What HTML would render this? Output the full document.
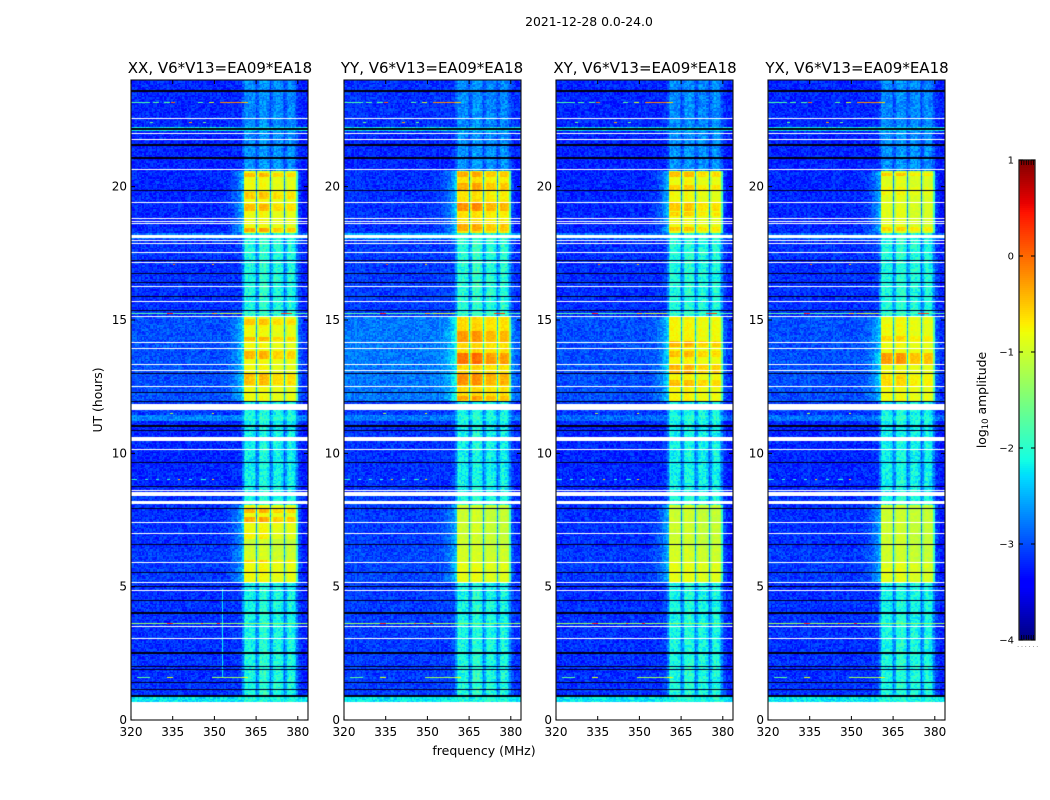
<!DOCTYPE html>
<html lang="en">
<head>
<meta charset="utf-8">
<title>2021-12-28 0.0-24.0</title>
<style>
html,body{margin:0;padding:0;background:#fff;}
#figure{position:relative;width:1050px;height:800px;overflow:hidden;background:#fff;font-family:"DejaVu Sans","Liberation Sans",sans-serif;}
canvas{position:absolute;top:80px;}
svg{position:absolute;left:0;top:0;}
text{font-family:"DejaVu Sans","Liberation Sans",sans-serif;fill:#000;}
</style>
</head>
<body>
<div id="figure">
<canvas id="heat0" width="177" height="640" style="left:131px"></canvas>
<canvas id="heat1" width="177" height="640" style="left:344px"></canvas>
<canvas id="heat2" width="177" height="640" style="left:556px"></canvas>
<canvas id="heat3" width="177" height="640" style="left:768px"></canvas>
<svg id="overlay" width="1050" height="800" viewBox="0 0 1050 800">
<text x="589" y="26" text-anchor="middle" font-size="12.4">2021-12-28 0.0-24.0</text>
<text x="220" y="73" text-anchor="middle" font-size="15">XX, V6*V13=EA09*EA18</text>
<text x="432" y="73" text-anchor="middle" font-size="15">YY, V6*V13=EA09*EA18</text>
<text x="645" y="73" text-anchor="middle" font-size="15">XY, V6*V13=EA09*EA18</text>
<text x="857" y="73" text-anchor="middle" font-size="15">YX, V6*V13=EA09*EA18</text>
<text x="484" y="755" text-anchor="middle" font-size="12.5">frequency (MHz)</text>
<text transform="translate(102,400) rotate(-90)" text-anchor="middle" font-size="12.4">UT (hours)</text>
<text transform="translate(986,400) rotate(-90)" text-anchor="middle" font-size="12.4">log<tspan font-size="8.5" dy="2">10</tspan><tspan dy="-2"> amplitude</tspan></text>
<text x="1017" y="647" font-size="7" letter-spacing="1.6" fill="#777" style="fill:#777">......</text>
</svg>
</div>
<script>
// ---------- axis tick labels ----------
const freqTicks = [320, 335, 350, 365, 380];
const hourTicks = [0, 5, 10, 15, 20];
const colorTicks = [1, 0, -1, -2, -3, -4];
const colorMinorTicks = [-3.98, -3.95, -3.92, -3.89, -3.86, -3.83, 0.83, 0.86, 0.89, 0.92, 0.95, 0.98];

// ---------- channel response when the band is loud: 0.5 MHz bins from 320 MHz ----------
const channelWeight = [
 0,0,0,0,0,0,0,0,0,0,0,0,0,0,0,0,0,0,0,0,0,0,0,0,0,0,0,0,0,0,
 0,0,0,0,0,0,0,0,0,0,0,0,0,0,0,0,0,0,0,0,0,0,0,0,0,0,0,0,0,0,
 0,0,0,0,0,0,.01,.01,.02,.02,
 .03,.04,.05,.07,.09,.11,.14,.17,.2,.24,.3,
 .95,1,1,1,.98,1,1,.98,.85,.22,
 .85,1,1.02,1.02,1,1,1,.98,.85,.25,
 .85,.97,.98,.98,.97,.97,.97,.95,.85,.22,
 .85,.96,.98,.98,.97,.97,.96,.92,.55,.1,
 .03,0,-.04,-.06,-.08,-.08,-.08
];

// ---------- channel response when the band is quiet ----------
const quietWeight = [
 0,0,0,0,0,0,0,0,0,0,0,0,0,0,0,0,0,0,0,0,0,0,0,0,0,0,0,0,0,0,
 0,0,0,0,0,0,0,0,0,0,0,0,0,0,0,0,0,0,0,0,0,0,0,0,0,0,0,0,0,0,
 0,0,0,0,0,0,0,0,0,0,
 0,0,0,0,.01,.02,.03,.04,.06,.1,.35,
 .7,.95,.9,.85,.9,.85,.9,.85,.6,.3,
 .45,.85,1,.95,.95,1,.95,.9,.6,.3,
 .5,.8,.9,.95,.95,.9,.9,.8,.55,.25,
 .5,.8,.9,.95,.9,.85,.8,.6,.35,.12,
 .05,0,-.04,-.06,-.08,-.08,-.08
];

// ---------- time regimes: start hour, background and in-band log10 amplitude ----------
const regimeFrom = [0.67,0.86,2.4,5.17,5.9,6.4,7.0,8.06,8.5,11.2,11.45,11.96,15.1,18.05,18.26,20.62,22.1,22.25];
const backgroundXX = [-2.25,-3.15,-3.15,-3.1,-3.1,-3.15,-3.15,-3.15,-3.2,-2.75,-3.1,-3.0,-3.15,-2.8,-3.2,-3.22,-2.25,-3.2];
const backgroundYY = [-2.25,-3.1,-3.1,-3.05,-3.05,-3.1,-3.1,-3.1,-3.15,-2.8,-3.1,-2.8,-3.1,-2.55,-3.15,-3.2,-2.25,-3.15];
const backgroundXY = [-2.25,-3.15,-3.15,-3.1,-3.1,-3.15,-3.15,-3.15,-3.2,-2.85,-3.1,-3.0,-3.15,-2.8,-3.2,-3.22,-2.25,-3.2];
const backgroundYX = [-2.25,-3.15,-3.15,-3.1,-3.1,-3.15,-3.15,-3.15,-3.2,-2.85,-3.1,-3.0,-3.15,-2.85,-3.2,-3.22,-2.25,-3.2];
const levelXX = [-2.05,-1.95,-2.0,-0.8,-0.95,-1.0,-0.8,-1.95,-2.05,-1.95,-2.05,-0.8,-1.95,-1.95,-0.8,-2.6,-2.3,-2.65];
const levelYY = [-2.05,-1.95,-2.0,-0.85,-0.95,-1.0,-1.0,-1.95,-2.05,-1.95,-2.05,-0.6,-1.9,-1.9,-0.65,-2.6,-2.3,-2.65];
const levelXY = [-2.05,-1.95,-2.0,-0.85,-0.95,-1.0,-1.0,-1.95,-2.05,-1.95,-2.05,-0.75,-1.95,-1.95,-0.8,-2.6,-2.3,-2.65];
const levelYX = [-2.05,-1.95,-2.0,-0.88,-1.0,-1.0,-1.0,-1.95,-2.05,-1.95,-2.05,-0.8,-1.95,-1.95,-0.88,-2.6,-2.3,-2.65];

// ---------- brighter in-band stripes ----------
const stripePanel = [0,0,0,0,0,0,0,0,0,0,0,0, 1,1,1,1,1,1,1,1, 2,2,2,2,2,2,2,2,2, 3,3,3,3,3,3];
const stripeFrom  = [20.35,19.57,19.12,18.3,14.8,14.2,13.54,12.56,7.76,7.42,6.82,5.89, 20.36,19.87,19.12,18.37,14.17,13.31,12.56,12.0, 20.36,19.87,19.12,18.35,14.0,13.6,13.0,12.5,18.9, 20.38,18.35,13.3,12.5,14.2,19.7];
const stripeTo    = [20.5,19.8,19.35,18.45,15.07,14.36,13.87,13.0,7.95,7.6,7.0,6.0, 20.55,20.17,19.38,18.63,14.62,13.76,13.0,12.15, 20.55,20.05,19.38,18.5,14.2,13.85,13.3,12.75,19.05, 20.52,18.5,13.75,12.95,14.4,20.0];
const stripeDelta = [.35,.3,.35,.45,.3,.35,.4,.35,.4,.45,.25,.35, .3,.3,.45,.3,.35,.55,.4,.3, .35,.25,.3,.3,.35,.3,.35,.3,.25, .35,.3,.55,.2,.2,.12];

// ---------- narrow interference rows: hour, frequency span, log10 amplitude ----------
const rfiHour  = [23.17,23.17,23.17,23.17,23.17,23.17,23.17,23.17,22.42,22.42,22.42,15.28,15.28,15.28,15.28,15.28,3.65,3.65,3.65,3.65,1.6,1.6,1.6,1.6,9.04,9.04,9.04,9.04,9.04,9.04,9.04,9.04,17.1,17.1,11.5,11.5];
const rfiFrom  = [320,328,332,334.5,344,348,352,360,327,341,346,320,333,349,352,374,320,333,345,351,322,333,349,360,320,325,329,333,337,341,345,349,335,349,334,349];
const rfiTo    = [327,330,334,336,346,350,360,362,328,342,347,384,335,351,360,378,384,335,346,352,327,335,360,362,322,326,330,334,337.7,342,347,349.7,336,350,335,350];
const rfiLevel = [-1.8,-1.7,-1.7,0.0,-1.7,-1.0,-0.2,-0.5,-1.6,-0.3,-1.6,-1.7,0.3,-0.5,-1.0,0.2,-1.3,0.3,-0.2,0.4,-1.7,-0.9,-1.3,-0.8,-2.0,-2.0,-2.0,-2.0,-0.5,-2.0,-2.0,-0.6,0.0,-0.5,-1.2,-0.9];

// ---------- faint vertical interference: panel 0 only ----------
const spurFreq = [352.8];
const spurFrom = [1.6];
const spurTo   = [4.9];
const spurLevel = [-2.2];

// ---------- flagged (white) and dead (black) rows, in hours ----------
const flaggedRows = [22.57,22.01,21.78,20.66,19.39,18.79,18.69,18.60,17.98,17.87,17.55,17.14,16.27,15.71,15.15,14.17,13.95,13.35,13.09,12.52,10.16,8.59,7.42,7.01,5.89,5.17,4.87,3.49,3.04];
const flaggedBlockFrom = [18.07,11.62,10.46,8.40,8.10,0];
const flaggedBlockTo   = [18.19,11.85,10.61,8.55,8.21,0.67];
const deadRows = [19.87,17.25,16.76,16.42,15.90,15.34,13.01,12.30,11.96,10.84,9.64,8.74,7.95,6.60,5.55,4.99,4.50,2.02,1.91,1.39,1.16];
const deadThickRows = [23.60,22.18,21.56,21.09,11.02,4.01,2.51,0.90];

// ---------- cell-to-cell scatter around the local level ----------
const scatter = [.12,-.18,.05,.22,-.09,-.24,.17,.02,-.14,.26,-.05,.09,-.21,.14,-.02,.2,-.16,.07,-.27,.11,.24,-.07,-.12,.03,.18,-.2,.08,-.03,.28,-.15,.01,-.23,.15,.06,-.1,.21,-.17,.1,-.01,.25,-.26,.04,.16,-.13,-.06,.19,-.19,.13,-.08,.23,-.11,0,.27,-.22,.09,-.04,.17,-.25,.06,.12,-.16];

const panelLeft = [131, 344, 556, 768];
const panelBackground = [backgroundXX, backgroundYY, backgroundXY, backgroundYX];
const panelLevel = [levelXX, levelYY, levelXY, levelYX];

const plotTop = 80, plotBottom = 720, plotWidth = 177;
const cbLeft = 1019, cbRight = 1035, cbTop = 160, cbBottom = 640;
const freqScale = function (f) { return (f - 320) * 2.78; };
const hourScale = function (h) { return (24 - h) * (plotBottom - plotTop) / 24; };
const colorScale = function (v) { return cbTop + (1 - v) * (cbBottom - cbTop) / 5; };

function seg(x, pts) {
  for (let i = 1; i < pts.length; i++) {
    if (x <= pts[i][0]) {
      const a = pts[i - 1], b = pts[i];
      return a[1] + (b[1] - a[1]) * (x - a[0]) / (b[0] - a[0]);
    }
  }
  return pts[pts.length - 1][1];
}
function jet(v) {
  const x = Math.max(0, Math.min(1, (v + 4) / 5));
  const r = seg(x, [[0,0],[.35,0],[.66,1],[.89,1],[1,.5]]);
  const g = seg(x, [[0,0],[.125,0],[.375,1],[.64,1],[.91,0],[1,0]]);
  const b = seg(x, [[0,.5],[.11,1],[.34,1],[.65,0],[1,0]]);
  return 'rgb(' + Math.round(r * 255) + ',' + Math.round(g * 255) + ',' + Math.round(b * 255) + ')';
}
function regimeIndex(h) {
  let k = -1;
  for (let i = 0; i < regimeFrom.length; i++) { if (h >= regimeFrom[i]) k = i; }
  return k;
}
function stripeBoost(p, h) {
  let d = 0;
  for (let i = 0; i < stripeFrom.length; i++) {
    if (stripePanel[i] === p && h >= stripeFrom[i] && h <= stripeTo[i]) d = Math.max(d, stripeDelta[i]);
  }
  return d;
}
function drawHeat(p) {
  const ctx = document.getElementById('heat' + p).getContext('2d');
  const rowStep = 0.05, chanStep = 0.5;
  for (let r = 0; r < 480; r++) {
    const h = (r + 0.5) * rowStep;
    const k = regimeIndex(h);
    if (k < 0) continue;
    const y1 = Math.round(hourScale(r * rowStep));
    const y0 = Math.round(hourScale((r + 1) * rowStep));
    const bg = panelBackground[p][k], boost = stripeBoost(p, h);
    const base = panelLevel[p][k];
    const loud = base > -1.5;
    for (let c = 0; c < channelWeight.length; c++) {
      const f = 320 + c * chanStep;
      const n = scatter[(r * r * 7 + c * c * 11 + r * c * 3 + r * 5 + c * 13 + p * 19) % scatter.length];
      const w = loud ? channelWeight[c] : quietWeight[c];
      const lvl = base + boost * (f < 370 ? 1 : 0.7);
      const v = bg + (lvl - bg) * w + n * (w > 0.5 && loud ? 0.35 : 0.9);
      const x0 = Math.round(freqScale(f)), x1 = Math.round(freqScale(f + chanStep));
      ctx.fillStyle = jet(v);
      ctx.fillRect(x0, y0, Math.max(1, x1 - x0), y1 - y0);
    }
  }
  if (p === 0) {
    for (let i = 0; i < spurFreq.length; i++) {
      ctx.fillStyle = jet(spurLevel[i]);
      ctx.fillRect(Math.round(freqScale(spurFreq[i])), Math.round(hourScale(spurTo[i])), 1, Math.round(hourScale(spurFrom[i]) - hourScale(spurTo[i])));
    }
  }
  for (let i = 0; i < rfiHour.length; i++) {
    ctx.fillStyle = jet(rfiLevel[i]);
    const xa = Math.round(freqScale(rfiFrom[i]));
    ctx.fillRect(xa, Math.round(hourScale(rfiHour[i])), Math.max(1, Math.round(freqScale(rfiTo[i])) - xa), 1);
  }
  ctx.fillStyle = '#ffffff';
  for (let i = 0; i < flaggedRows.length; i++) {
    ctx.fillRect(0, Math.round(hourScale(flaggedRows[i]) - 0.5), plotWidth, 1);
  }
  for (let i = 0; i < flaggedBlockFrom.length; i++) {
    const ya = Math.round(hourScale(flaggedBlockTo[i]));
    ctx.fillRect(0, ya, plotWidth, Math.round(hourScale(flaggedBlockFrom[i])) - ya);
  }
  ctx.fillStyle = '#00002a';
  for (let i = 0; i < deadRows.length; i++) {
    ctx.fillRect(0, Math.round(hourScale(deadRows[i]) - 0.5), plotWidth, 1);
  }
  ctx.fillStyle = '#000010';
  for (let i = 0; i < deadThickRows.length; i++) {
    ctx.fillRect(0, Math.round(hourScale(deadThickRows[i]) - 1), plotWidth, 2);
  }
}

const NS = 'http://www.w3.org/2000/svg';
const overlay = document.getElementById('overlay');
function svgEl(tag, attrs, parent) {
  const el = document.createElementNS(NS, tag);
  for (const key in attrs) { el.setAttribute(key, attrs[key]); }
  (parent || overlay).appendChild(el);
  return el;
}

for (let p = 0; p < panelLeft.length; p++) {
  drawHeat(p);
  const x0 = panelLeft[p];
  const group = svgEl('g', {});
  
  
  const frame = svgEl('rect', { x: x0, y: plotTop, width: plotWidth, height: plotBottom - plotTop, fill: 'none', stroke: '#111', 'stroke-width': 1.1 }, group);
  
  
  for (const f of freqTicks) {
    const x = x0 + freqScale(f);
    const bottomTick = svgEl('line', { x1: x, x2: x, y1: plotBottom, y2: plotBottom - 4, stroke: '#000', 'stroke-width': 1 }, group);
    
    
    const topTick = svgEl('line', { x1: x, x2: x, y1: plotTop, y2: plotTop + 4, stroke: '#000', 'stroke-width': 1 }, group);
    
    
    const label = svgEl('text', { x: x, y: 736, 'text-anchor': 'middle', 'font-size': 12 }, group);
    label.textContent = String(f);
    
    
  }
  for (const h of hourTicks) {
    const y = plotTop + hourScale(h);
    const leftTick = svgEl('line', { x1: x0, x2: x0 + 4, y1: y, y2: y, stroke: '#000', 'stroke-width': 1 }, group);
    
    
    const rightTick = svgEl('line', { x1: x0 + plotWidth, x2: x0 + plotWidth - 4, y1: y, y2: y, stroke: '#000', 'stroke-width': 1 }, group);
    
    
    const label = svgEl('text', { x: x0 - 4, y: y + 4, 'text-anchor': 'end', 'font-size': 12 }, group);
    label.textContent = String(h);
    
    
  }
}

// colorbar
const colorbar = svgEl('g', {});


const cbSteps = 240;
for (let i = 0; i < cbSteps; i++) {
  const hi = 1 - i * 5 / cbSteps, lo = 1 - (i + 1) * 5 / cbSteps;
  const swatch = svgEl('rect', { x: cbLeft, y: colorScale(hi), width: cbRight - cbLeft, height: colorScale(lo) - colorScale(hi) + 0.4, fill: jet((hi + lo) / 2) }, colorbar);
  
  
}
const cbFrame = svgEl('rect', { x: cbLeft, y: cbTop, width: cbRight - cbLeft, height: cbBottom - cbTop, fill: 'none', stroke: '#222', 'stroke-width': 1.3 }, colorbar);


for (const v of colorTicks) {
  const y = colorScale(v);
  const tickL = svgEl('line', { x1: cbLeft, x2: cbLeft + 4, y1: y, y2: y, stroke: '#000', 'stroke-width': 1 }, colorbar);
  
  
  const tickR = svgEl('line', { x1: cbRight, x2: cbRight - 4, y1: y, y2: y, stroke: '#000', 'stroke-width': 1 }, colorbar);
  
  
  const label = svgEl('text', { x: cbLeft - 5, y: y + 3.5, 'text-anchor': 'end', 'font-size': 10 }, colorbar);
  label.textContent = String(v).replace('-', '\u2212');
  
  
}
colorMinorTicks.forEach(function (v, i) {
  const x = cbLeft + 2.5 + (i % 6) * 2.4;
  const y = v > 0 ? cbTop : cbBottom;
  const tick = svgEl('line', { x1: x, x2: x, y1: y, y2: v > 0 ? y + 5 : y - 5, stroke: '#000', 'stroke-width': 0.8 }, colorbar);
  
  
});
</script>
</body>
</html>
